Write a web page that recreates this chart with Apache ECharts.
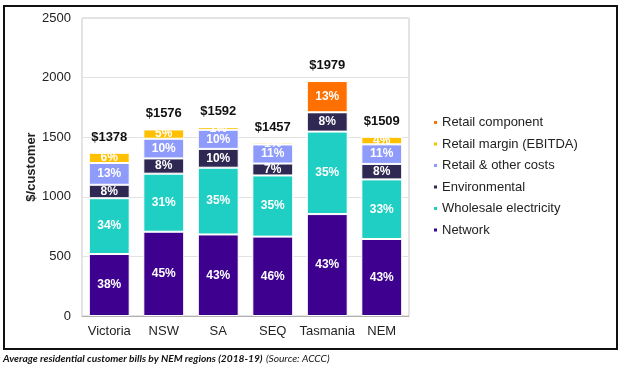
<!DOCTYPE html>
<html>
<head>
<meta charset="utf-8">
<script src="https://cdn.jsdelivr.net/npm/echarts@6/dist/echarts.min.js"></script>
<style>html,body{margin:0;padding:0;background:#fff;}#c{width:624px;height:368px;}</style>
</head>
<body>
<div id="c"></div>
<script>
var categories = ['Victoria', 'NSW', 'SA', 'SEQ', 'Tasmania', 'NEM'];
var network = [520, 707, 684, 666, 855, 646];
var wholesale = [468, 487, 560, 513, 692, 500];
var environmental = [113, 128, 158, 100, 162, 130];
var retailOther = [183, 165, 160, 160, 0, 164];
var retailMargin = [86, 78, 24, 16, 0, 64];
var retailComponent = [0, 0, 0, 0, 262, 0];
var totals = [1378, 1576, 1592, 1457, 1979, 1509];
var totalLabels = ['$1378', '$1576', '$1592', '$1457', '$1979', '$1509'];
var pctNetwork = ['38%', '45%', '43%', '46%', '43%', '43%'];
var pctWholesale = ['34%', '31%', '35%', '35%', '35%', '33%'];
var pctEnvironmental = ['8%', '8%', '10%', '7%', '8%', '8%'];
var pctRetailOther = ['13%', '10%', '10%', '11%', '', '11%'];
var pctRetailMargin = ['6%', '5%', '1%', '1%', '', '4%'];
var pctRetailComponent = ['', '', '', '', '13%', ''];
var yTicks = [0, 500, 1000, 1500, 2000, 2500];

var FONT = '"Liberation Sans", Arial, sans-serif';

function seg(name, data, pct, color) {
  return {
    name: name, type: 'bar', stack: 'bill', data: data, barWidth: '75%',
    itemStyle: { color: color, borderColor: '#ffffff', borderWidth: 1 },
    label: {
      show: true, position: 'inside', color: '#ffffff', fontFamily: FONT,
      fontWeight: 'bold', fontSize: 12,
      formatter: function (p) { return data[p.dataIndex] > 0 ? pct[p.dataIndex] : ''; }
    },
    emphasis: { disabled: true }
  };
}

var chart = echarts.init(document.getElementById('c'), null, { renderer: 'canvas' });
chart.setOption({
  animation: false,
  backgroundColor: '#ffffff',
  textStyle: { fontFamily: FONT },
  grid: { left: 82, top: 18, right: 215, bottom: 52, show: true, borderColor: '#c8c8c8', borderWidth: 1 },
  legend: {
    orient: 'vertical', left: 427, top: 111, itemWidth: 5, itemHeight: 5, itemGap: 8.5,
    icon: 'rect',
    textStyle: { fontFamily: FONT, fontSize: 13, color: '#222222', padding: [0, 0, 0, -1] },
    data: ['Retail component', 'Retail margin (EBITDA)', 'Retail & other costs', 'Environmental', 'Wholesale electricity', 'Network']
  },
  xAxis: {
    type: 'category', data: categories,
    axisLine: { lineStyle: { color: '#b0b0b0' } },
    axisTick: { show: false },
    axisLabel: { color: '#222222', fontSize: 13, fontFamily: FONT, margin: 9, interval: 0 }
  },
  yAxis: {
    type: 'value', min: yTicks[0], max: yTicks[yTicks.length - 1], interval: 500,
    name: '$/customer', nameLocation: 'middle', nameGap: 44, nameMoveOverlap: false,
    nameTextStyle: { color: '#222222', fontSize: 13, fontWeight: 'bold', fontFamily: FONT },
    axisLine: { show: false }, axisTick: { show: false },
    axisLabel: { color: '#222222', fontSize: 13, fontFamily: FONT, margin: 11, formatter: function (v) { return String(v); } },
    splitLine: { lineStyle: { color: '#e2e2e2' } }
  },
  series: [
    seg('Network', network, pctNetwork, '#3d008f'),
    seg('Wholesale electricity', wholesale, pctWholesale, '#1fcfc4'),
    seg('Environmental', environmental, pctEnvironmental, '#2f2852'),
    seg('Retail & other costs', retailOther, pctRetailOther, '#8e9bfb'),
    seg('Retail margin (EBITDA)', retailMargin, pctRetailMargin, '#ffc000'),
    seg('Retail component', retailComponent, pctRetailComponent, '#ff7000'),
    {
      name: 'totals', type: 'scatter', data: totals, symbolSize: 0, silent: true,
      itemStyle: { opacity: 1 },
      label: {
        show: true, position: 'top', distance: 8, color: '#111111', fontFamily: FONT,
        fontWeight: 'bold', fontSize: 13, opacity: 1,
        formatter: function (p) { return totalLabels[p.dataIndex]; }
      }
    }
  ],
  graphic: [
    { type: 'rect', shape: { x: 4, y: 6, width: 613, height: 343 }, style: { fill: 'none', stroke: '#111111', lineWidth: 2 }, silent: true },
    {
      type: 'text', left: 3, top: 353, silent: true,
      style: {
        text: '{b|Average residential customer bills by NEM regions (2018-19)} {i|(Source: ACCC)}',
        rich: {
          b: { fontFamily: 'Lato, "Open Sans", sans-serif', fontStyle: 'italic', fontWeight: 'bold', fontSize: 10.2, fill: '#111111' },
          i: { fontFamily: 'Lato, "Open Sans", sans-serif', fontStyle: 'italic', fontSize: 10.2, fill: '#111111' }
        }
      }
    }
  ]
});
</script>
</body>
</html>
